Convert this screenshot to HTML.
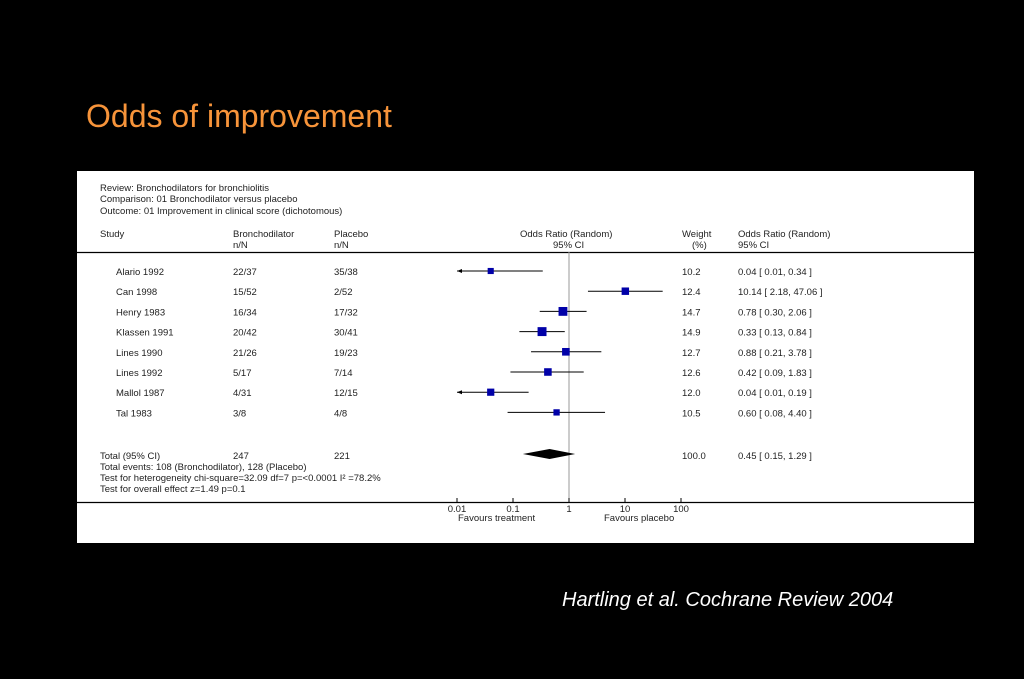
<!DOCTYPE html>
<html><head><meta charset="utf-8"><style>
body{margin:0;width:1024px;height:679px;background:#000;overflow:hidden;font-family:"Liberation Sans",sans-serif;position:relative}
#title{position:absolute;left:86px;top:98px;color:#f7943a;font-size:32px}
#panel{position:absolute;left:77px;top:171px;width:897px;height:372px;background:#fff}
#cite{position:absolute;left:562px;top:589px;color:#fff;font-size:20px;font-style:italic}
svg text{font-family:"Liberation Sans",sans-serif;font-size:9.5px;fill:#222}
</style></head><body>
<div id="title">Odds of improvement</div>
<div id="panel">
<svg id="plot" width="897" height="372" viewBox="77 171 897 372" xmlns="http://www.w3.org/2000/svg">
<text x="100" y="191">Review:  Bronchodilators for bronchiolitis</text>
<text x="100" y="202">Comparison:  01 Bronchodilator versus placebo</text>
<text x="100" y="214">Outcome:  01 Improvement in clinical score (dichotomous)</text>
<text x="100" y="237">Study</text>
<text x="233" y="237">Bronchodilator</text><text x="233" y="248">n/N</text>
<text x="334" y="237">Placebo</text><text x="334" y="248">n/N</text>
<text x="520" y="237">Odds Ratio (Random)</text><text x="553" y="248">95% CI</text>
<text x="682" y="237">Weight</text><text x="692" y="248">(%)</text>
<text x="738" y="237">Odds Ratio (Random)</text><text x="738" y="248">95% CI</text>
<line x1="77" y1="252.5" x2="974" y2="252.5" stroke="#000" stroke-width="1.2"/>
<line x1="77" y1="502.5" x2="974" y2="502.5" stroke="#000" stroke-width="1.2"/>
<g id="rows"></g>
<text x="100" y="459">Total (95% CI)</text><text x="233" y="459">247</text><text x="334" y="459">221</text>
<text x="682" y="459">100.0</text><text x="738" y="459">0.45 [ 0.15, 1.29 ]</text>
<text x="100" y="470">Total events: 108 (Bronchodilator), 128 (Placebo)</text>
<text x="100" y="481">Test for heterogeneity chi-square=32.09 df=7 p=&lt;0.0001 I² =78.2%</text>
<text x="100" y="492">Test for overall effect z=1.49  p=0.1</text>
<text x="458" y="521">Favours treatment</text><text x="604" y="521">Favours placebo</text>
</svg></div>
<div id="cite">Hartling et al. Cochrane Review 2004</div>
<script>
const studies=["Alario 1992","Can 1998","Henry 1983","Klassen 1991","Lines 1990","Lines 1992","Mallol 1987","Tal 1983"];
const treat=["22/37","15/52","16/34","20/42","21/26","5/17","4/31","3/8"];
const plac=["35/38","2/52","17/32","30/41","19/23","7/14","12/15","4/8"];
const weights=[10.2,12.4,14.7,14.9,12.7,12.6,12.0,10.5];
const ors=[0.04,10.14,0.78,0.33,0.88,0.42,0.04,0.60];
const lows=[0.01,2.18,0.30,0.13,0.21,0.09,0.01,0.08];
const highs=[0.34,47.06,2.06,0.84,3.78,1.83,0.19,4.40];
const pooled=[0.45,0.15,1.29];
const ticks=[0.01,0.1,1,10,100];
const tickLabels=["0.01","0.1","1","10","100"];
const NS="http://www.w3.org/2000/svg";
const X=v=>569+56*Math.log10(v);
const Y=i=>271+20.2*i;
const svg=document.getElementById('plot');
function mk(t,a,txt){const e=document.createElementNS(NS,t);for(const k in a)e.setAttribute(k,a[k]);if(txt!==undefined)e.textContent=txt;svg.appendChild(e);return e;}
let ref=mk('line',{x1:X(1),y1:252,x2:X(1),y2:502,stroke:'#999','stroke-width':1});


studies.forEach((s,i)=>{
 const y=Y(i);
 mk('text',{x:116,y:y+4},s);
 mk('text',{x:233,y:y+4},treat[i]);
 mk('text',{x:334,y:y+4},plac[i]);
 mk('text',{x:682,y:y+4},weights[i].toFixed(1));
 mk('text',{x:738,y:y+4},ors[i].toFixed(2)+" [ "+lows[i].toFixed(2)+", "+highs[i].toFixed(2)+" ]");
 const lo=Math.max(lows[i],0.01);
 const ci=mk('line',{x1:X(lo),y1:y,x2:X(highs[i]),y2:y,stroke:'#000','stroke-width':1});
 
 
 if(lows[i]<=0.01){mk('polygon',{points:`${X(0.01)},${y} ${X(0.01)+5},${y-2} ${X(0.01)+5},${y+2}`,fill:'#000'});}
 const sz=weights[i]*0.6;
 const sq=mk('rect',{x:X(ors[i])-sz/2,y:y-sz/2,width:sz,height:sz,fill:'#0000a8'});
 
 
});
const yd=454;
const dm=mk('polygon',{points:`${X(pooled[1])},${yd} ${X(pooled[0])},${yd-5} ${X(pooled[2])},${yd} ${X(pooled[0])},${yd+5}`,fill:'#000'});


ticks.forEach((t,i)=>{
 mk('line',{x1:X(t),y1:498,x2:X(t),y2:503,stroke:'#000'});
 mk('text',{x:X(t),y:512,'text-anchor':'middle'},tickLabels[i]);
});
</script>
</body></html>
